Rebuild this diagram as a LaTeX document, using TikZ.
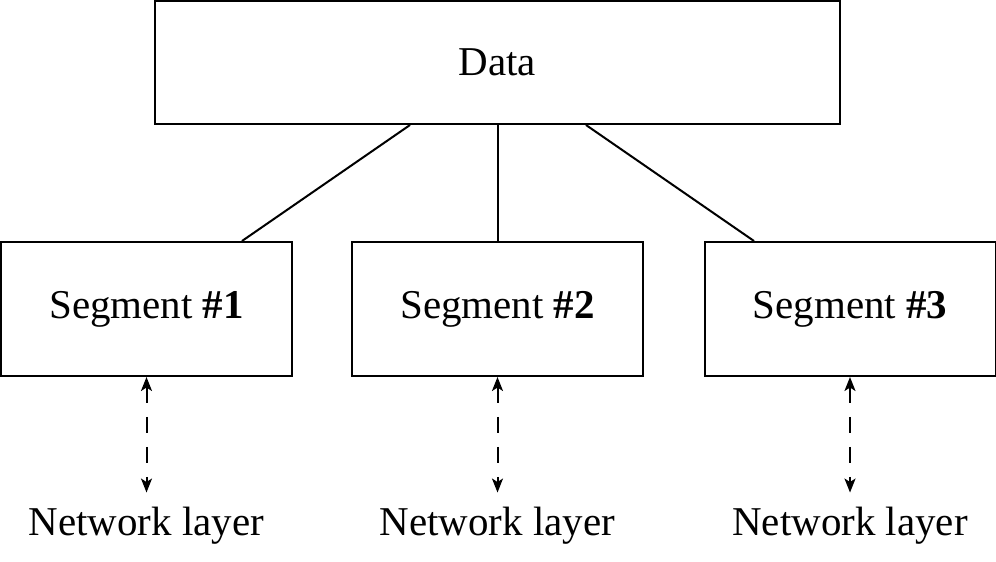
\documentclass[tikz,border=0pt]{standalone}
\usepackage{fontspec}
\setmainfont{Liberation Serif}
\usetikzlibrary{arrows.meta, positioning}

\begin{document}
\begin{tikzpicture}[auto, node distance=7.02cm, >={Stealth[length=0.28cm, width=0.22cm, inset=0.07cm]}, font=\fontsize{23.3}{28}\selectfont]
 % We fix the frame and define the styles for the blocks and the lines
 \useasboundingbox (0,0) rectangle (19.92,-11.22);
 \tikzset{
block/.style = {draw, rectangle, line width=0.04cm, minimum height=2.68cm, minimum width=5.82cm, inner sep=0pt},
datablock/.style = {block, minimum height=2.46cm, minimum width=13.7cm},
link/.style = {draw, line width=0.04cm},
dashline/.style = {draw, <->, line width=0.04cm, dash pattern=on 0.32cm off 0.28cm},
layer/.style = {inner sep=0pt},
}

 % Segment blocks
 \node [block] (seg2) at (9.95,-6.18) {Segment \textbf{\#2}};
 \node [block, left of=seg2, node distance=7.02cm] (seg1) {Segment \textbf{\#1}};
 \node [block, right of=seg2, node distance=7.05cm] (seg3) {Segment \textbf{\#3}};

 % Data block
 \node [datablock, above of=seg2, node distance=4.93cm] (data) {Data};

 % Lines from the data to the segments
 \draw [link] ([xshift=-1.75cm]data.south) -- ([xshift=1.91cm]seg1.north);
 \draw [link] (data.south) -- (seg2.north);
 \draw [link] ([xshift=1.77cm]data.south) -- ([xshift=-1.92cm]seg3.north);

 % Network layer labels
 \node [layer, below of=seg1, node distance=4.33cm] (net1) {Network layer};
 \node [layer, below of=seg2, node distance=4.33cm] (net2) {Network layer};
 \node [layer, below of=seg3, node distance=4.33cm] (net3) {Network layer};

 % Dashed arrows between the segments and the network layer
 \draw [dashline] (seg1.south) -- ([yshift=0.28cm]net1.north);
 \draw [dashline] (seg2.south) -- ([yshift=0.28cm]net2.north);
 \draw [dashline] (seg3.south) -- ([yshift=0.28cm]net3.north);

\end{tikzpicture}
\end{document}
